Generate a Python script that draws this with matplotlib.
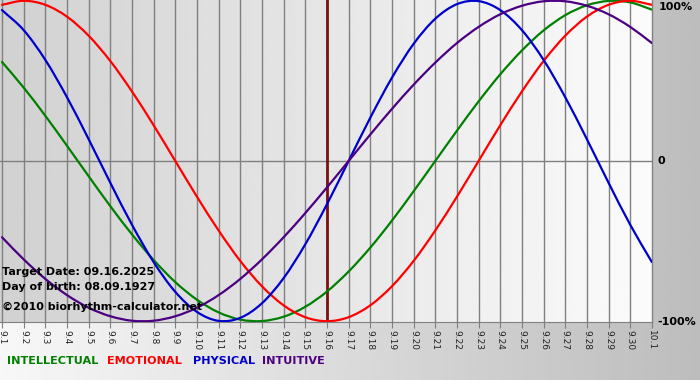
import numpy as np
import matplotlib
matplotlib.use("Agg")
import matplotlib.pyplot as plt
from matplotlib.path import Path
from matplotlib.patches import PathPatch

# days shown on the x axis (9.1 .. 10.1)
day_labels = ["9.%d" % i for i in range(1, 31)] + ["10.1"]
target_idx = 15  # 9.16

# biorhythm values per day (-1 .. 1)
intellectual = [0.618, 0.458, 0.282, 0.095, -0.095, -0.282, -0.458, -0.618, -0.756, -0.866,
                -0.945, -0.990, -0.999, -0.972, -0.910, -0.815, -0.690, -0.541, -0.372, -0.189,
                0.0, 0.189, 0.372, 0.541, 0.690, 0.815, 0.910, 0.972, 0.999, 0.990, 0.945]
emotional = [0.975, 1.0, 0.975, 0.901, 0.782, 0.624, 0.434, 0.223, 0.0, -0.223,
             -0.434, -0.624, -0.782, -0.901, -0.975, -1.0, -0.975, -0.901, -0.782, -0.624,
             -0.434, -0.223, 0.0, 0.223, 0.434, 0.624, 0.782, 0.901, 0.975, 1.0, 0.975]
physical = [0.942, 0.817, 0.631, 0.398, 0.136, -0.136, -0.398, -0.631, -0.817, -0.942,
            -0.998, -0.979, -0.888, -0.731, -0.520, -0.270, 0.0, 0.270, 0.520, 0.731,
            0.888, 0.979, 0.998, 0.942, 0.817, 0.631, 0.398, 0.136, -0.136, -0.398, -0.631]
intuitive = [-0.476, -0.614, -0.736, -0.837, -0.916, -0.969, -0.997, -0.997, -0.969, -0.916,
             -0.837, -0.736, -0.614, -0.476, -0.325, -0.165, 0.0, 0.165, 0.325, 0.476,
             0.614, 0.736, 0.837, 0.916, 0.969, 0.997, 0.997, 0.969, 0.916, 0.837, 0.736]

series = [("INTELLECTUAL", intellectual, "#008000"),
          ("EMOTIONAL", emotional, "#ff0000"),
          ("PHYSICAL", physical, "#0000cc"),
          ("INTUITIVE", intuitive, "#4b0082")]


def smooth_path(xs, ys):
    # curved line through the points (Catmull-Rom as cubic bezier segments)
    p = np.column_stack([xs, ys]).astype(float)
    verts = [p[0]]
    codes = [Path.MOVETO]
    n = len(p)
    for i in range(n - 1):
        p0 = p[i - 1] if i > 0 else 2 * p[0] - p[1]
        p1 = p[i]
        p2 = p[i + 1]
        p3 = p[i + 2] if i + 2 < n else 2 * p[-1] - p[-2]
        c1 = p1 + (p2 - p0) / 6.0
        c2 = p2 - (p3 - p1) / 6.0
        verts += [c1, c2, p2]
        codes += [Path.CURVE4] * 3
    return Path(verts, codes)


W, H = 700, 380
fig = plt.figure(figsize=(W / 100, H / 100), dpi=100)

# figure background gradient
bg = fig.add_axes([0, 0, 1, 1])
bg.imshow(np.linspace(0.97, 0.74, 256)[None, :], cmap="gray", vmin=0, vmax=1,
          aspect="auto", extent=[0, 1, 0, 1])
bg.set_axis_off()

# plot area in pixels
left, right, top, bottom = 0, 652, 0, 322
ax = fig.add_axes([left / W, 1 - bottom / H, (right - left) / W, (bottom - top) / H])
x = np.arange(len(day_labels))
ax.set_xlim(-0.0925, 30.005)
ax.set_ylim(-1.005, 1.005)

ax.imshow(np.linspace(0.82, 0.985, 256)[None, :], cmap="gray", vmin=0, vmax=1,
          aspect="auto", extent=[-0.0925, 30.005, -1.005, 1.005], zorder=0)

for xi in x:
    ax.axvline(xi, color="#808080", lw=1.0, zorder=1, clip_on=False)
ax.axhline(0, color="#808080", lw=1.0, zorder=1)
ax.axvline(target_idx, color="#7a1010", lw=2.0, zorder=2)

for name, vals, col in series:
    ax.add_patch(PathPatch(smooth_path(x, vals), facecolor="none", edgecolor=col,
                           lw=1.6, zorder=3, capstyle="round"))

for s in ["top", "left", "right"]:
    ax.spines[s].set_visible(False)
ax.spines["bottom"].set_color("#808080")
ax.set_xticks(x)
ax.set_xticklabels(day_labels, rotation=270, fontsize=6.5, color="#222222")
ax.tick_params(axis="x", length=4, color="#808080", pad=2)
ax.set_yticks([])

# texts inside the plot
info = dict(fontsize=8, fontweight="bold", color="black", va="center", ha="left")
fig.text(2 / W, 1 - 272 / H, "Target Date: 09.16.2025", **info)
fig.text(2 / W, 1 - 287 / H, "Day of birth: 08.09.1927", **info)
fig.text(2 / W, 1 - 307 / H, "\u00a92010 biorhythm-calculator.net", **info)

# right scale labels
fig.text(659 / W, 1 - 7 / H, "100%", **info)
fig.text(657 / W, 1 - 161 / H, "0", **info)
fig.text(657 / W, 1 - 322 / H, "-100%", **info)

# legend line at the bottom
lx = [7, 107, 193, 262]
for (name, vals, col), px in zip(series, lx):
    fig.text(px / W, 1 - 361 / H, name, fontsize=8.1, fontweight="bold", color=col,
             va="center", ha="left")

fig.savefig("out.png", dpi=100)
